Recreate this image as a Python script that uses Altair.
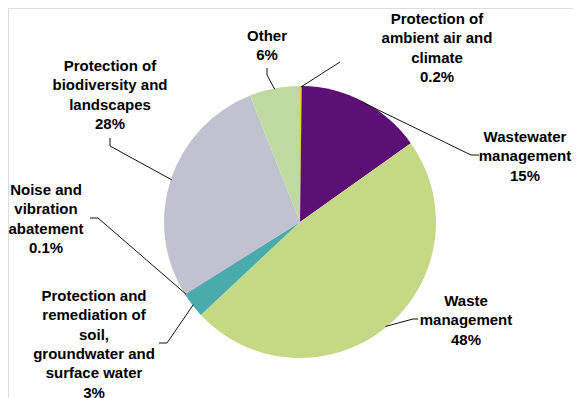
import math
import altair as alt
import pandas as pd

# ---- data ----
categories = [
    "Protection of ambient air and climate",
    "Wastewater management",
    "Waste management",
    "Protection and remediation of soil, groundwater and surface water",
    "Noise and vibration abatement",
    "Protection of biodiversity and landscapes",
    "Other",
]
values = [0.2, 15, 48, 3, 0.1, 28, 6]
value_labels = ["0.2%", "15%", "48%", "3%", "0.1%", "28%", "6%"]
label_lines = [
    ["Protection of", "ambient air and", "climate"],
    ["Wastewater", "management"],
    ["Waste", "management"],
    ["Protection and", "remediation of", "soil,", "groundwater and", "surface water"],
    ["Noise and", "vibration", "abatement"],
    ["Protection of", "biodiversity and", "landscapes"],
    ["Other"],
]
colors = ["#d6d629", "#5c0f75", "#c5d985", "#4aabab", "#7070c2", "#c1c2cf", "#bfdaa0"]

# ---- layout (page pixel positions; page margin 8) ----
M = 8
CX, CY, R = 300, 222, 136
# position of the first text line (centre) of each label block
label_pos = [(437, 19), (525, 137), (466, 301), (94, 296), (46, 190), (110, 66), (267, 36)]
leader_pts = [
    [(340, 62)],
    [(471, 155), (479, 155)],
    [(413, 319), (418, 319)],
    [(167, 343), (159, 343)],
    [(98, 218), (90, 218)],
    [(110, 146), (110, 138)],
    [(267, 75), (267, 68)],
]

order = list(range(len(categories)))
pie_df = pd.DataFrame({"category": categories, "value": values, "order": order})

lab_rows = []
for c, lines, vl, (lx, ly) in zip(categories, label_lines, value_labels, label_pos):
    lab_rows.append({"category": c, "text": "\n".join(lines + [vl]), "x": lx - M, "y": ly - M})
lab_df = pd.DataFrame(lab_rows)

total = sum(values)
cum = 0.0
line_rows = []
for c, v, pts in zip(categories, values, leader_pts):
    mid = (cum + v / 2) / total * 2 * math.pi
    cum += v
    sx = CX + (R - 1) * math.sin(mid)
    sy = CY - (R - 1) * math.cos(mid)
    allpts = [(sx, sy)] + pts
    for i, (px, py) in enumerate(allpts):
        line_rows.append({"category": c, "i": i, "x": px - M, "y": py - M})
line_df = pd.DataFrame(line_rows)

W, H = 565, 390

pie = alt.Chart(pie_df).mark_arc(radius=R).encode(
    theta=alt.Theta("value:Q", stack=True),
    order=alt.Order("order:Q"),
    color=alt.Color("category:N", scale=alt.Scale(domain=categories, range=colors), legend=None),
    x=alt.value(CX - M),
    y=alt.value(CY - M),
)

leaders = alt.Chart(line_df).mark_line(color="#111111", strokeWidth=1).encode(
    x=alt.X("x:Q", scale=None),
    y=alt.Y("y:Q", scale=None),
    detail="category:N",
    order="i:Q",
)

labels = alt.Chart(lab_df).mark_text(
    lineBreak="\n", font="Liberation Sans", fontWeight="bold", fontSize=15,
    align="center", baseline="middle", lineHeight=19.3, color="#000000",
).encode(
    x=alt.X("x:Q", scale=None),
    y=alt.Y("y:Q", scale=None),
    text="text:N",
)

chart = alt.layer(pie, leaders, labels).properties(
    width=W, height=H, padding=0, autosize=alt.AutoSizeParams(type="none"),
).configure_view(stroke=None).configure(background="white")

chart.save("out.html", embed_options={"renderer": "svg", "actions": False})
